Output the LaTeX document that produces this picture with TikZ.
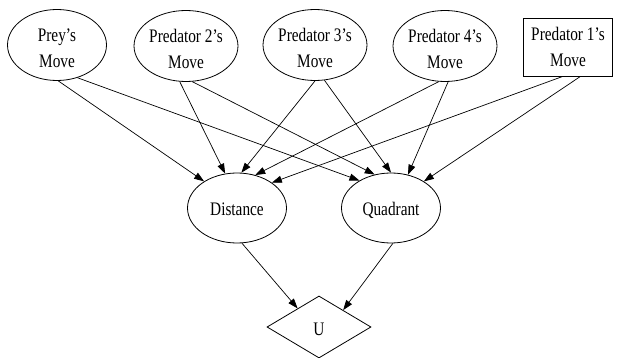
\documentclass[tikz,border=0pt]{standalone}
\usepackage{fontspec}
\setmainfont{Liberation Serif}
\usetikzlibrary{shapes.geometric,arrows.meta}
\newcommand\tallline[1]{\scalebox{1}[1.25]{#1}}
\newcommand\twolines[3]{\raisebox{#1}[0pt][0pt]{\renewcommand\arraystretch{1.4}\begin{tabular}{@{}c@{}}\tallline{#2}\\\tallline{#3}\end{tabular}}}
\newcommand\oneline[2]{\raisebox{#1}[0pt][0pt]{\renewcommand\arraystretch{1.4}\begin{tabular}{@{}c@{}}\tallline{#2}\end{tabular}}}
\begin{document}
\begin{tikzpicture}[x=1pt,y=-1pt,
  every node/.style={font=\fontsize{15.3}{18}\selectfont, inner sep=0pt, line width=0.8pt},
  chance/.style={draw, ellipse, minimum width=99pt, minimum height=71pt},
  decision/.style={draw, rectangle, minimum width=89pt, minimum height=58pt},
  utility/.style={draw, diamond, minimum width=104pt, minimum height=62pt},
  arc/.style={line width=0.7pt, -{Triangle[length=10pt,width=7pt]}}]
\useasboundingbox (0,0) rectangle (619,358);
\node[chance] (prey) at (57,45) {\twolines{-8pt}{Prey’s}{Move}};
\node[chance] (p2) at (186,46) {\twolines{-8pt}{Predator 2’s}{Move}};
\node[chance] (p3) at (315,45) {\twolines{-8pt}{Predator 3’s}{Move}};
\node[chance] (p4) at (445,46) {\twolines{-8pt}{Predator 4’s}{Move}};
\node[decision] (p1) at (568,47) {\twolines{-5pt}{Predator 1’s}{Move}};
\node[chance, minimum height=70pt] (dist) at (237,208) {\oneline{-6pt}{Distance}};
\node[chance, minimum height=70pt] (quad) at (391,208) {\oneline{-6pt}{Quadrant}};
\node[utility] (u) at (319,327) {\oneline{-7pt}{U}};
\draw[arc] (prey.-88) -- (dist.141);
\draw[arc] (prey.-58) -- (quad.139);
\draw[arc] (p2.-100) -- (dist.109);
\draw[arc] (p2.-80) -- (quad.116);
\draw[arc] (p3.-90) -- (dist.83);
\draw[arc] (p3.-75) -- (quad.90);
\draw[arc] (p4.-100) -- (dist.61);
\draw[arc] (p4.-85) -- (quad.63);
\draw[arc] (p1.-100) -- (dist.36);
\draw[arc] (p1.-67) -- (quad.39);
\draw[arc] (dist.-82) -- (u.139);
\draw[arc] (quad.-87) -- (u.35);
\end{tikzpicture}
\end{document}
